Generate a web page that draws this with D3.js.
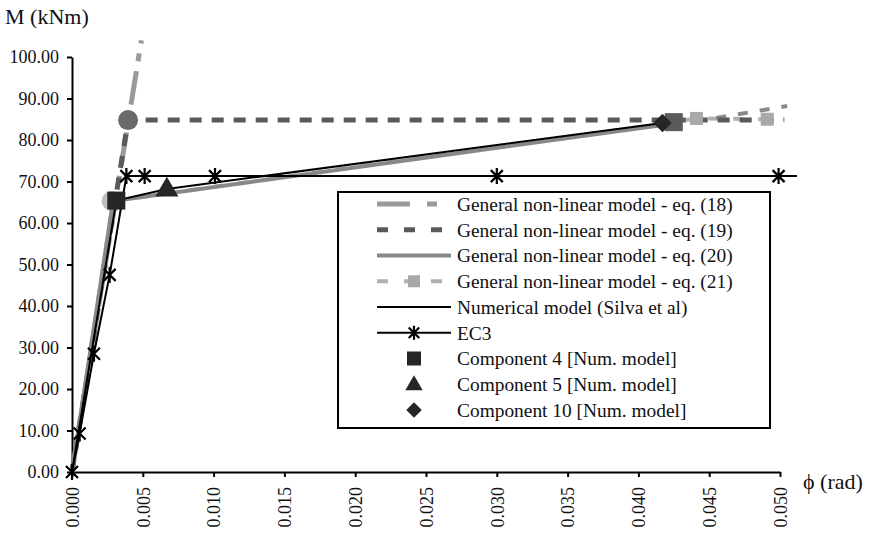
<!DOCTYPE html>
<html>
<head>
<meta charset="utf-8">
<script src="https://cdn.jsdelivr.net/npm/d3@7"></script>
<style>
  body { margin: 0; background: #fff; }
  svg text { font-family: 'Liberation Serif', 'DejaVu Serif', serif !important; fill: #111; }
</style>
</head>
<body>
<div id="chart"></div>
<script>
// rotation phi (rad) vs moment M (kNm)
var xTickValues = [0, 0.005, 0.010, 0.015, 0.020, 0.025, 0.030, 0.035, 0.040, 0.045, 0.050];
var yTickValues = [0, 10, 20, 30, 40, 50, 60, 70, 80, 90, 100];

var eq18 = [[0, 0], [0.0040, 85.0], [0.0049, 104.0]];
var eq19 = [[0, 0], [0.00396, 84.8], [0.0503, 84.8]];
var eq19Knee = [[0.00396, 84.8]];
var eq20 = [[0, 0], [0.0029, 65.3], [0.0425, 84.0]];
var eq20Knee = [[0.0028, 65.3]];
var eq21 = [[0, 0], [0.0029, 65.3], [0.0425, 84.3], [0.0441, 85.2], [0.0491, 85.0], [0.0503, 85.0]];
var eq21Markers = [[0.0441, 85.2], [0.0491, 85.0]];
var eq21Upper = [[0.0455, 85.3], [0.0505, 88.2]];
var numerical = [[0, 0], [0.00313, 65.4], [0.0067, 68.2], [0.0417, 84.1]];
var ec3 = [[0, 0], [0.00054, 9.3], [0.00155, 28.5], [0.00266, 47.5], [0.00384, 71.3], [0.00513, 71.3],
           [0.0101, 71.3], [0.0300, 71.3], [0.0499, 71.3], [0.0512, 71.3]];
var comp4 = [[0.00313, 65.4], [0.0425, 84.3]];
var comp5 = [[0.0067, 68.2]];
var comp10 = [[0.0417, 84.1]];

var legendLabels = [
  "General non-linear model - eq. (18)",
  "General non-linear model - eq. (19)",
  "General non-linear model - eq. (20)",
  "General non-linear model - eq. (21)",
  "Numerical model (Silva et al)",
  "EC3",
  "Component 4 [Num. model]",
  "Component 5 [Num. model]",
  "Component 10 [Num. model]"
];

var serif = "'Liberation Serif', 'DejaVu Serif', serif";
var width = 870, height = 533;

var svg = d3.select("#chart").append("svg")
  .attr("width", width)
  .attr("height", height)
  .attr("font-family", serif);

var x = d3.scaleLinear().domain([0, 0.050]).range([72, 780]);
var y = d3.scaleLinear().domain([0, 100]).range([472, 57]);

// axes
var yAxis = d3.axisLeft(y).tickValues(yTickValues).tickSize(5).tickSizeOuter(0)
  .tickFormat(d3.format(".2f"));
var xAxis = d3.axisBottom(x).tickValues(xTickValues).tickSize(5).tickSizeOuter(0)
  .tickFormat(d3.format(".3f"));

var gy = svg.append("g").attr("transform", "translate(72,0)").call(yAxis)
  .attr("font-family", serif).attr("font-size", 18);
gy.select(".domain").attr("stroke", "#000").attr("stroke-width", 2);
gy.selectAll(".tick line").attr("stroke", "#000").attr("stroke-width", 2);
gy.selectAll(".tick text").attr("x", -13).attr("fill", "#111");

var gx = svg.append("g").attr("transform", "translate(0,472)").call(xAxis)
  .attr("font-family", serif).attr("font-size", 18);
gx.select(".domain").attr("stroke", "#000").attr("stroke-width", 2);
gx.selectAll(".tick line").attr("stroke", "#000").attr("stroke-width", 2);
gx.selectAll(".tick text")
  .attr("transform", "rotate(-90)")
  .attr("x", -15)
  .attr("y", 0)
  .attr("dy", "0.35em")
  .style("text-anchor", "end")
  .attr("fill", "#111");

svg.append("text").attr("x", 5).attr("y", 24).attr("font-size", 22).text("M (kNm)");
svg.append("text").attr("x", 803).attr("y", 489).attr("font-size", 22).text("\u03d5 (rad)");

// series
var line = d3.line().x(d => x(d[0])).y(d => y(d[1]));

function drawLine(data, color, w, dash) {
  svg.append("path")
    .datum(data)
    .attr("d", line)
    .attr("fill", "none")
    .attr("stroke", color)
    .attr("stroke-width", w)
    .attr("stroke-dasharray", dash || null);
}

drawLine(eq18, "#9a9a9a", 5, "34,10,8,10");
drawLine(eq21, "#b0b0b0", 4, "10,15");
drawLine(eq21Upper, "#8a8a8a", 4, "10,12");
drawLine(eq19, "#5a5a5a", 5, "12,10");

svg.selectAll(".knee19").data(eq19Knee).enter().append("circle")
  .attr("cx", d => x(d[0])).attr("cy", d => y(d[1])).attr("r", 10).attr("fill", "#6a6a6a");
svg.selectAll(".knee20").data(eq20Knee).enter().append("circle")
  .attr("cx", d => x(d[0])).attr("cy", d => y(d[1])).attr("r", 10).attr("fill", "#bdbdbd");

drawLine(eq20, "#888", 4);

svg.selectAll(".sq21").data(eq21Markers).enter().append("rect")
  .attr("x", d => x(d[0]) - 6.5).attr("y", d => y(d[1]) - 6.5)
  .attr("width", 13).attr("height", 13).attr("fill", "#a8a8a8");

drawLine(numerical, "#000", 2);
drawLine(ec3, "#000", 2);

function starPath(r) {
  var s = r * 0.75;
  return "M" + (-s) + "," + (-s) + "L" + s + "," + s +
         "M" + (-s) + "," + s + "L" + s + "," + (-s) +
         "M0," + (-r) + "L0," + r;
}

svg.selectAll(".star").data(ec3.filter(d => d[0] <= 0.0505)).enter().append("path")
  .attr("transform", d => "translate(" + x(d[0]) + "," + y(d[1]) + ")")
  .attr("d", starPath(8))
  .attr("stroke", "#000").attr("stroke-width", 2.2).attr("fill", "none");

svg.selectAll(".c4").data(comp4).enter().append("rect")
  .attr("x", d => x(d[0]) - 9).attr("y", d => y(d[1]) - 9)
  .attr("width", 18).attr("height", 18)
  .attr("fill", (d, i) => i === 0 ? "#262626" : "#5a5a5a");

var tri = d3.symbol().type(d3.symbolTriangle).size(230);
svg.selectAll(".c5").data(comp5).enter().append("path")
  .attr("transform", d => "translate(" + x(d[0]) + "," + (y(d[1]) + 1) + ")")
  .attr("d", tri).attr("fill", "#262626");

svg.selectAll(".c10").data(comp10).enter().append("rect")
  .attr("x", -6.5).attr("y", -6.5).attr("width", 13).attr("height", 13)
  .attr("transform", d => "translate(" + x(d[0]) + "," + y(d[1]) + ") rotate(45)")
  .attr("fill", "#262626");

// legend
var legend = svg.append("g");
legend.append("rect")
  .attr("x", 338).attr("y", 192).attr("width", 432).attr("height", 236)
  .attr("fill", "#fff").attr("stroke", "#000").attr("stroke-width", 2);

var rowY = d3.scalePoint().domain(d3.range(legendLabels.length)).range([204, 410]);
var sx0 = 377, sx1 = 451, sxm = 414;

legendLabels.forEach(function(lbl, i) {
  var ry = rowY(i);
  var g = legend.append("g");
  if (i === 0) {
    g.append("line").attr("x1", sx0).attr("x2", sx1).attr("y1", ry).attr("y2", ry)
      .attr("stroke", "#9a9a9a").attr("stroke-width", 5).attr("stroke-dasharray", "33,17,10,30");
  } else if (i === 1) {
    g.append("line").attr("x1", sx0).attr("x2", sx1).attr("y1", ry).attr("y2", ry)
      .attr("stroke", "#5a5a5a").attr("stroke-width", 5).attr("stroke-dasharray", "11,16");
  } else if (i === 2) {
    g.append("line").attr("x1", sx0).attr("x2", sx1).attr("y1", ry).attr("y2", ry)
      .attr("stroke", "#888").attr("stroke-width", 4);
  } else if (i === 3) {
    g.append("line").attr("x1", sx0).attr("x2", sx1).attr("y1", ry).attr("y2", ry)
      .attr("stroke", "#b0b0b0").attr("stroke-width", 4).attr("stroke-dasharray", "11,16");
    g.append("rect").attr("x", sxm - 6).attr("y", ry - 6).attr("width", 12).attr("height", 12)
      .attr("fill", "#a8a8a8");
  } else if (i === 4) {
    g.append("line").attr("x1", sx0).attr("x2", sx1).attr("y1", ry).attr("y2", ry)
      .attr("stroke", "#000").attr("stroke-width", 2);
  } else if (i === 5) {
    g.append("line").attr("x1", sx0).attr("x2", sx1).attr("y1", ry).attr("y2", ry)
      .attr("stroke", "#000").attr("stroke-width", 2);
    g.append("path").attr("transform", "translate(" + sxm + "," + ry + ")")
      .attr("d", starPath(7)).attr("stroke", "#000").attr("stroke-width", 2.2).attr("fill", "none");
  } else if (i === 6) {
    g.append("rect").attr("x", sxm - 7).attr("y", ry - 7).attr("width", 14).attr("height", 14)
      .attr("fill", "#262626");
  } else if (i === 7) {
    g.append("path").attr("transform", "translate(" + sxm + "," + (ry + 1) + ")")
      .attr("d", d3.symbol().type(d3.symbolTriangle).size(130)).attr("fill", "#262626");
  } else {
    g.append("rect").attr("x", -5.5).attr("y", -5.5).attr("width", 11).attr("height", 11)
      .attr("transform", "translate(" + sxm + "," + ry + ") rotate(45)").attr("fill", "#262626");
  }
  g.append("text").attr("x", 457).attr("y", ry).attr("dy", "0.35em")
    .attr("font-size", 19.4).text(lbl);
});
</script>
</body>
</html>
